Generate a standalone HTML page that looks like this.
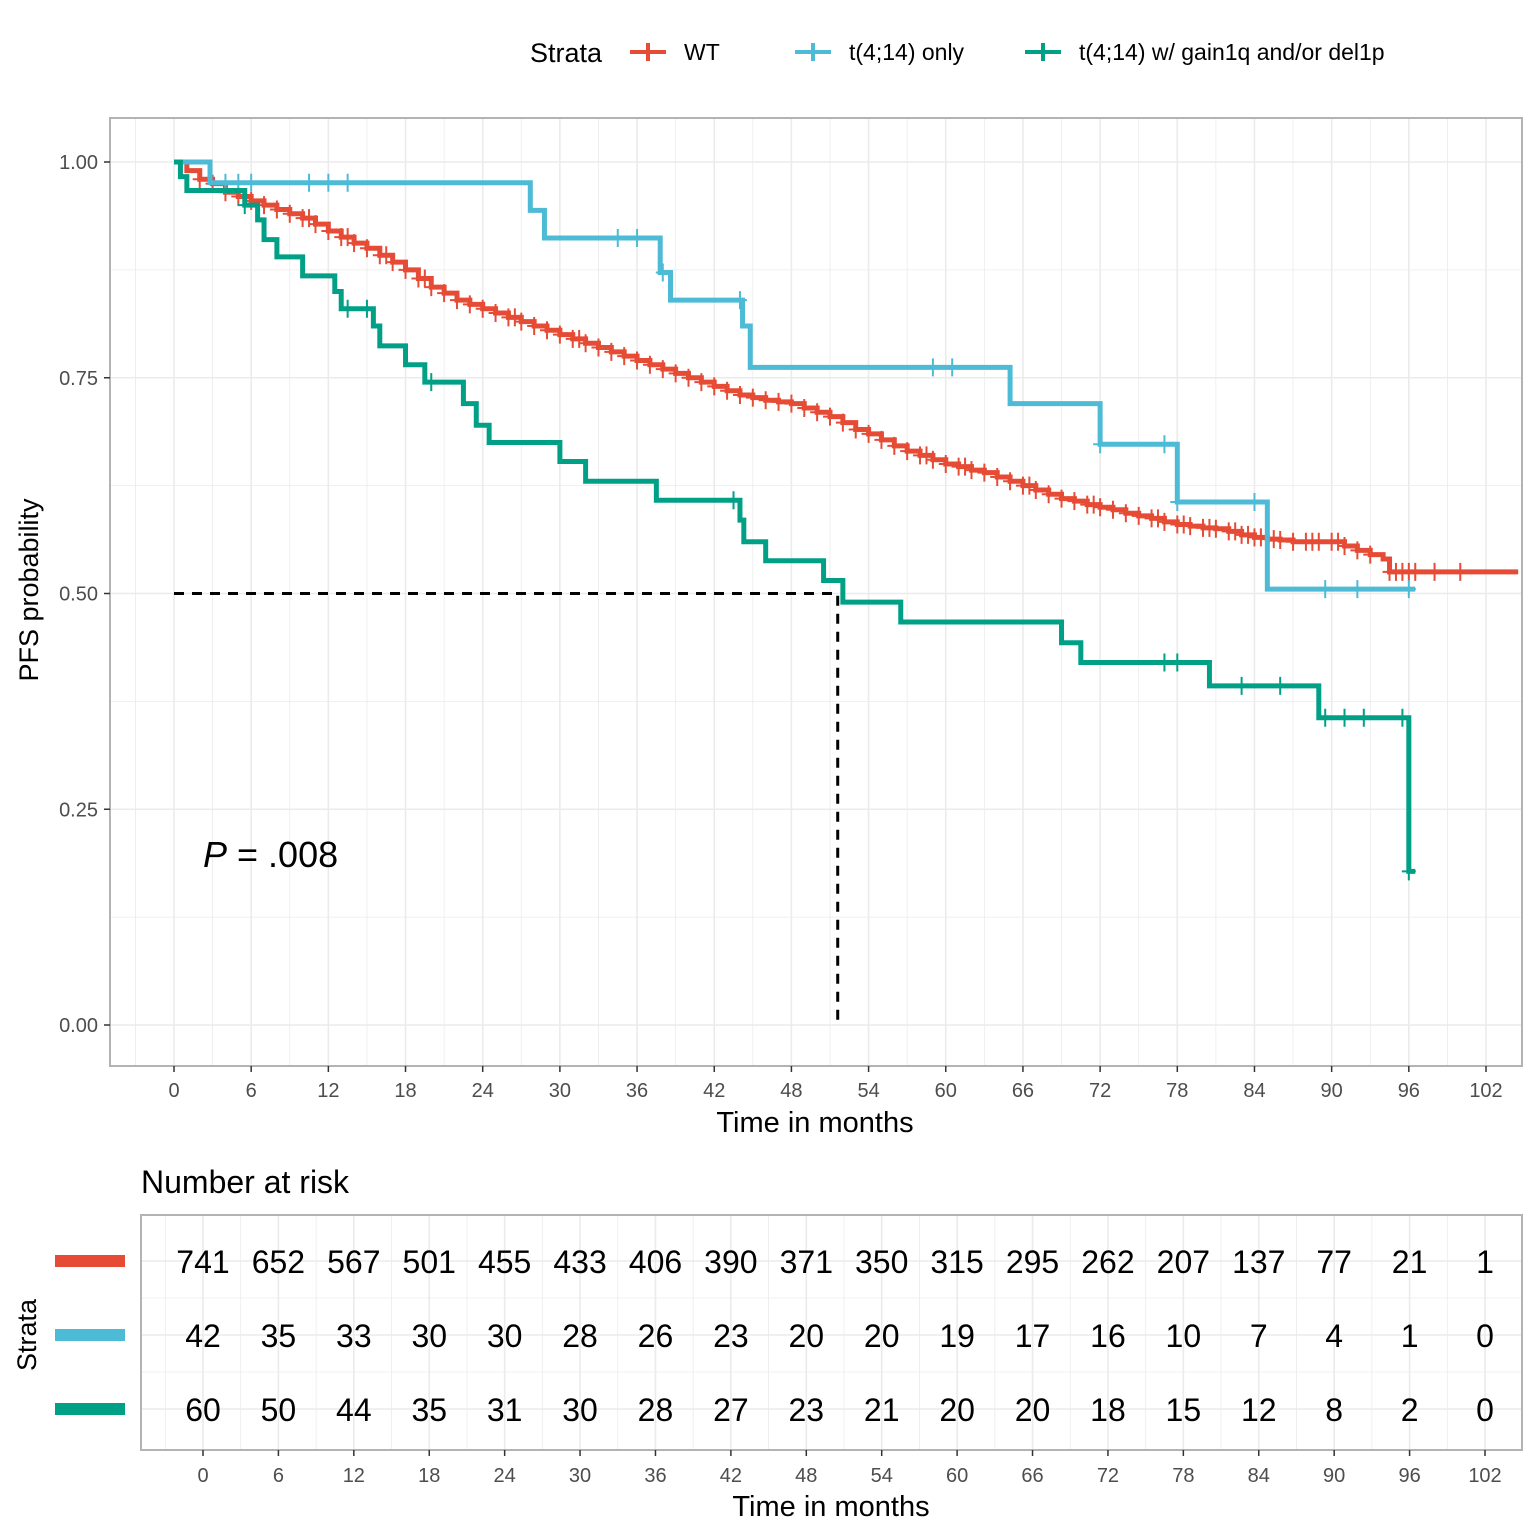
<!DOCTYPE html>
<html><head><meta charset="utf-8"><style>
body{margin:0;background:#fff;}
svg{display:block;font-family:"Liberation Sans",sans-serif;}
</style></head><body>
<svg id="chart" width="1538" height="1538" viewBox="0 0 1538 1538"></svg>
<script>
// ---- data ----
const xTicks = [0,6,12,18,24,30,36,42,48,54,60,66,72,78,84,90,96,102];
const yTicks = [0,0.25,0.5,0.75,1.0];
const yTickLabels = ["0.00","0.25","0.50","0.75","1.00"];
const strataNames = ["WT","t(4;14) only","t(4;14) w/ gain1q and/or del1p"];
const strataColors = ["#E64B35","#4DBBD5","#00A087"];
const wtTimes = [0,1,2,3,4,5,6,7,8,9,10,11,12,13,14,15,16,17,18,19,20,21,22,23,24,25,26,27,28,29,30,31,32,33,34,35,36,37,38,39,40,41,42,43,44,45,46,47,48,49,50,51,52,53,54,55,56,57,58,59,60,61,62,63,64,65,66,67,68,69,70,71,72,73,74,75,76,77,78,79,80,81,82,83,84,85,86,87,88,89,90,91,92,93,94,94.5];
const wtSurv = [1,0.99,0.98,0.975,0.965,0.96,0.955,0.95,0.945,0.94,0.935,0.928,0.92,0.913,0.906,0.9,0.892,0.884,0.875,0.865,0.855,0.848,0.84,0.835,0.83,0.825,0.82,0.815,0.81,0.805,0.8,0.795,0.79,0.785,0.78,0.775,0.77,0.765,0.76,0.755,0.75,0.745,0.74,0.735,0.73,0.727,0.724,0.722,0.72,0.715,0.71,0.705,0.698,0.69,0.685,0.678,0.671,0.665,0.66,0.655,0.65,0.647,0.643,0.64,0.635,0.63,0.625,0.62,0.615,0.61,0.607,0.603,0.6,0.597,0.593,0.59,0.587,0.583,0.58,0.578,0.576,0.575,0.572,0.568,0.565,0.563,0.562,0.56,0.56,0.56,0.56,0.555,0.55,0.545,0.54,0.525];
const wtEnd = 104.5;
const wtCensor = [2,3,4,5,6,7,8,9,10,10.5,11,12,13,13.5,14,15,16,16.5,17,18,19,19.5,20,21,22,23,24,25,26,26.5,27,28,29,30,31,31.5,32,33,34,35,36,37,38,39,40,41,42,43,44,45,46,47,48,49,50,51,52,53,54,55,56,57,58,58.5,59,60,61,61.5,62,63,64,65,66,66.5,67,68,69,70,71,71.5,72,73,74,75,76,76.5,77,78,78.5,79,80,80.5,81,82,82.5,83,83.5,84,84.5,85,85.5,86,87,88,88.5,89,90,90.5,91,92,93,94.5,95,95.5,96,96.5,98,100];
const blueTimes = [0,2.8,27.7,28.8,37.8,38.6,44.2,44.8,65,72,78,85];
const blueSurv = [1,0.976,0.944,0.912,0.872,0.84,0.81,0.762,0.72,0.673,0.606,0.505];
const blueEnd = 96.5;
const blueCensor = [4,5,6,10.5,12,13.5,34.5,36,38,44,59,60.5,72,77,78,84,89.5,92,96];
const tealTimes = [0,0.5,1,5.5,6.5,7,8,10,12.5,13,15.5,16,18,19.5,22.5,23.5,24.5,30,32,37.5,44,44.3,46,50.5,52,56.5,69,70.5,80.5,89,96];
const tealSurv = [1,0.983,0.967,0.95,0.933,0.91,0.89,0.868,0.85,0.83,0.81,0.787,0.765,0.745,0.72,0.695,0.675,0.653,0.63,0.608,0.585,0.56,0.538,0.515,0.49,0.467,0.443,0.42,0.393,0.356,0.178];
const tealEnd = 96.5;
const tealCensor = [5.5,13.5,15,20,43.5,77,78,83,86,89.5,91,92.5,95.5,96];
const riskRows = [
 [741,652,567,501,455,433,406,390,371,350,315,295,262,207,137,77,21,1],
 [42,35,33,30,30,28,26,23,20,20,19,17,16,10,7,4,1,0],
 [60,50,44,35,31,30,28,27,23,21,20,20,18,15,12,8,2,0]];
const medianTime = 51.6;

// ---- axes ----
const X = t => 174 + t*(1486-174)/102;
const Y = s => 1025 - s*(1025-162);
const XR = t => 203 + t*(1485-203)/102;
const svg = document.getElementById('chart');
const NS='http://www.w3.org/2000/svg';
function mk(tag, attrs, parent){const e=document.createElementNS(NS,tag);for(const k in attrs)e.setAttribute(k,attrs[k]);(parent||svg).appendChild(e);return e;}

const gGrid = mk('g',{});


for(let t=-3;t<=105;t+=3){const x=X(t);if(x<110||x>1522)continue;mk('line',{x1:x,x2:x,y1:118,y2:1066,stroke:'#ebebeb','stroke-width':xTicks.includes(t)?1.6:0.8},gGrid);}
for(let s=0;s<=1.0001;s+=0.125){mk('line',{x1:110,x2:1522,y1:Y(s),y2:Y(s),stroke:'#ebebeb','stroke-width':Math.abs(s*4-Math.round(s*4))<1e-6?1.6:0.8},gGrid);}
const frame = mk('rect',{x:110,y:118,width:1412,height:948,fill:'none',stroke:'#b3b3b3','stroke-width':2});



yTicks.forEach((v,i)=>{
 mk('line',{x1:104,x2:110,y1:Y(v),y2:Y(v),stroke:'#333','stroke-width':1.5});
 const t=mk('text',{x:98,y:Y(v)+7,'text-anchor':'end','font-size':20,fill:'#4d4d4d'});t.textContent=yTickLabels[i];
 
 
});
xTicks.forEach(v=>{
 mk('line',{x1:X(v),x2:X(v),y1:1066,y2:1072,stroke:'#333','stroke-width':1.5});
 const t=mk('text',{x:X(v),y:1097,'text-anchor':'middle','font-size':20,fill:'#4d4d4d'});t.textContent=v;
 
 
});
let tt=mk('text',{x:815,y:1132,'text-anchor':'middle','font-size':29,fill:'#000'});tt.textContent='Time in months';


tt=mk('text',{x:38,y:590,'text-anchor':'middle','font-size':27,fill:'#000',transform:'rotate(-90 38 590)'});tt.textContent='PFS probability';



const med=mk('path',{d:`M${X(0)},${Y(0.5)}H${X(medianTime)}V${Y(0)}`,fill:'none',stroke:'#000','stroke-width':3,'stroke-dasharray':'10,8'});



function stepFn(times,surv,t){let s=surv[0];for(let i=0;i<times.length;i++){if(times[i]<=t)s=surv[i];}return s;}
function drawCurve(times,surv,end,cens,color,name){
 let d=`M${X(times[0])},${Y(surv[0])}`;
 for(let i=1;i<times.length;i++){d+=`H${X(times[i])}V${Y(surv[i])}`;}
 d+=`H${X(end)}`;
 const p=mk('path',{d,fill:'none',stroke:color,'stroke-width':5});
 
 
 cens.forEach(c=>{const x=X(c),y=Y(stepFn(times,surv,c));
  const m=mk('path',{d:`M${x},${y-9}V${y+9}M${x-7},${y}H${x+7}`,stroke:color,'stroke-width':2});
  
  
 });
}
drawCurve(wtTimes,wtSurv,wtEnd,wtCensor,strataColors[0],'wt');
drawCurve(blueTimes,blueSurv,blueEnd,blueCensor,strataColors[1],'t414-only');
drawCurve(tealTimes,tealSurv,tealEnd,tealCensor,strataColors[2],'t414-gain1q');

tt=mk('text',{x:203,y:867,'font-size':36,fill:'#000'});tt.innerHTML='<tspan font-style="italic">P</tspan> = .008';



tt=mk('text',{x:530,y:62,'font-size':27,fill:'#000'});tt.textContent='Strata';


const legX=[630,795,1025];
strataNames.forEach((n,i)=>{
 const g=mk('g',{});
 
 
 const x=legX[i];
 mk('path',{d:`M${x},52H${x+36}M${x+18},43V61`,stroke:strataColors[i],'stroke-width':4},g);
 const t=mk('text',{x:x+54,y:60,'font-size':23,fill:'#000'},g);t.textContent=n;
});

tt=mk('text',{x:141,y:1193,'font-size':32,fill:'#000'});tt.textContent='Number at risk';


const gr=mk('g',{});


for(let t=-3;t<=105;t+=3){const x=XR(t);if(x<141||x>1522)continue;mk('line',{x1:x,x2:x,y1:1215,y2:1450,stroke:'#ebebeb','stroke-width':xTicks.includes(t)?1.6:0.8},gr);}
[1261,1335,1409].forEach(y=>mk('line',{x1:141,x2:1522,y1:y,y2:y,stroke:'#ebebeb','stroke-width':1.6},gr));
[1298,1372].forEach(y=>mk('line',{x1:141,x2:1522,y1:y,y2:y,stroke:'#ebebeb','stroke-width':0.8},gr));
const rf=mk('rect',{x:141,y:1215,width:1381,height:235,fill:'none',stroke:'#b3b3b3','stroke-width':2});


const rowY=[1261,1335,1409];
riskRows.forEach((row,r)=>{
 const k=mk('line',{x1:55,x2:125,y1:rowY[r],y2:rowY[r],stroke:strataColors[r],'stroke-width':12});
 
 
 row.forEach((v,i)=>{const t=mk('text',{x:XR(xTicks[i]),y:rowY[r]+12,'text-anchor':'middle','font-size':32,fill:'#000'});t.textContent=v;
  
  });
});
xTicks.forEach(v=>{
 mk('line',{x1:XR(v),x2:XR(v),y1:1450,y2:1456,stroke:'#333','stroke-width':1.5});
 const t=mk('text',{x:XR(v),y:1482,'text-anchor':'middle','font-size':20,fill:'#4d4d4d'});t.textContent=v;
 
 
});
tt=mk('text',{x:831,y:1516,'text-anchor':'middle','font-size':29,fill:'#000'});tt.textContent='Time in months';


tt=mk('text',{x:36,y:1335,'text-anchor':'middle','font-size':27,fill:'#000',transform:'rotate(-90 36 1335)'});tt.textContent='Strata';


</script>
</body></html>
